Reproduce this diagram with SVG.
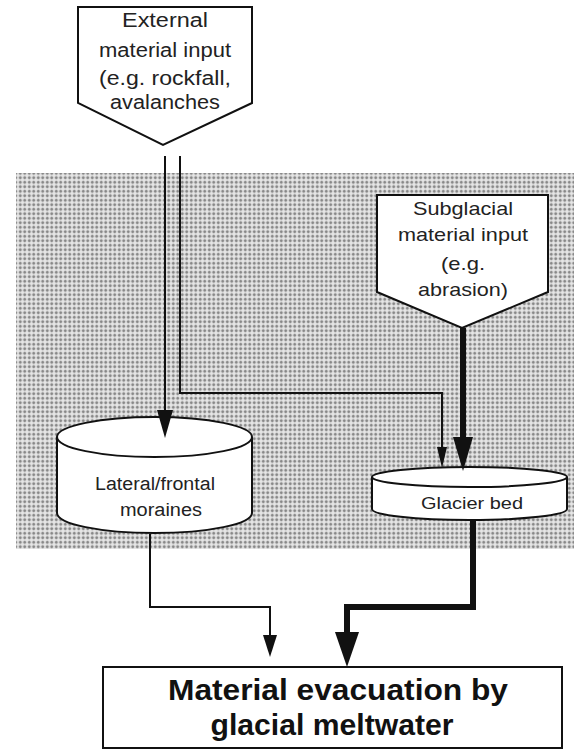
<svg xmlns="http://www.w3.org/2000/svg" width="574" height="750" viewBox="0 0 574 750">
<defs>
<pattern id="dots" width="4.5" height="4.5" patternUnits="userSpaceOnUse">
<rect width="4.5" height="4.5" fill="#e6e6e6"/>
<rect x="0.7" y="1.5" width="3.1" height="1.5" fill="#858585"/>
<rect x="1.5" y="0.7" width="1.5" height="3.1" fill="#858585"/>
</pattern>
</defs>
<style>
.node{fill:#fff;stroke:#111;stroke-width:2}
.t{font-family:"Liberation Sans",Arial,sans-serif;fill:#222;text-anchor:middle}
.tb{font-family:"Liberation Sans",Arial,sans-serif;font-weight:bold;fill:#111;text-anchor:middle}
.ln{fill:none;stroke:#111}
.hd{fill:#111}
</style>
<rect x="16" y="173" width="558" height="376" fill="url(#dots)"/>

<g id="external">
<path class="node" d="M78,7 L252,7 L252,103 L163,145 L78,103 Z"/>
<text class="t" x="165" y="27" font-size="20" textLength="86" lengthAdjust="spacingAndGlyphs">External</text>
<text class="t" x="165" y="57" font-size="20" textLength="132" lengthAdjust="spacingAndGlyphs">material input</text>
<text class="t" x="165" y="85" font-size="20" textLength="132" lengthAdjust="spacingAndGlyphs">(e.g. rockfall,</text>
<text class="t" x="165" y="109" font-size="20" textLength="110" lengthAdjust="spacingAndGlyphs">avalanches</text>
</g>

<g id="subglacial">
<path class="node" d="M377,195 L548,195 L548,292 L462,328 L377,292 Z"/>
<text class="t" x="463" y="215" font-size="19" textLength="100" lengthAdjust="spacingAndGlyphs">Subglacial</text>
<text class="t" x="463" y="241" font-size="19" textLength="130" lengthAdjust="spacingAndGlyphs">material input</text>
<text class="t" x="463" y="270" font-size="19" textLength="44" lengthAdjust="spacingAndGlyphs">(e.g.</text>
<text class="t" x="463" y="296" font-size="19" textLength="90" lengthAdjust="spacingAndGlyphs">abrasion)</text>
</g>

<g id="moraines">
<path class="node" d="M57,437 L57,513 A97.5,20 0 0 0 252,513 L252,437"/>
<ellipse class="node" cx="154.5" cy="437" rx="97.5" ry="20"/>
<text class="t" x="155" y="490" font-size="18" textLength="120" lengthAdjust="spacingAndGlyphs">Lateral/frontal</text>
<text class="t" x="161" y="516" font-size="18" textLength="82" lengthAdjust="spacingAndGlyphs">moraines</text>
</g>

<g id="glacierbed">
<path class="node" d="M372,477 L372,509 A97.5,11 0 0 0 567,509 L567,477"/>
<ellipse class="node" cx="469.5" cy="477" rx="97.5" ry="10"/>
<text class="t" x="472" y="509" font-size="17" textLength="102" lengthAdjust="spacingAndGlyphs">Glacier bed</text>
</g>

<g id="evacuation">
<rect class="node" x="103" y="667" width="459" height="81" stroke-width="1.5"/>
<text class="tb" x="338" y="700" font-size="30" textLength="340" lengthAdjust="spacingAndGlyphs">Material evacuation by</text>
<text class="tb" x="332" y="735" font-size="30" textLength="243" lengthAdjust="spacingAndGlyphs">glacial meltwater</text>
</g>

<g id="connectors">
<line class="ln" x1="165" y1="156" x2="165" y2="412" stroke-width="2"/>
<path class="hd" d="M157,410 L173,410 L165,438 Z"/>
<path class="ln" d="M180,156 L180,393 L442,393 L442,450" stroke-width="2"/>
<path class="hd" d="M437,447 L447,447 L442,468 Z"/>
<line class="ln" x1="463" y1="328" x2="463" y2="440" stroke-width="6"/>
<path class="hd" d="M453,437 L473,437 L463,471 Z"/>
<path class="ln" d="M150,534 L150,607 L270,607 L270,638" stroke-width="2"/>
<path class="hd" d="M263,635 L277,635 L270,657 Z"/>
<path class="ln" d="M473,521 L473,607 L347,607 L347,636" stroke-width="6"/>
<path class="hd" d="M335,632 L359,632 L347,667 Z"/>
</g>
</svg>
